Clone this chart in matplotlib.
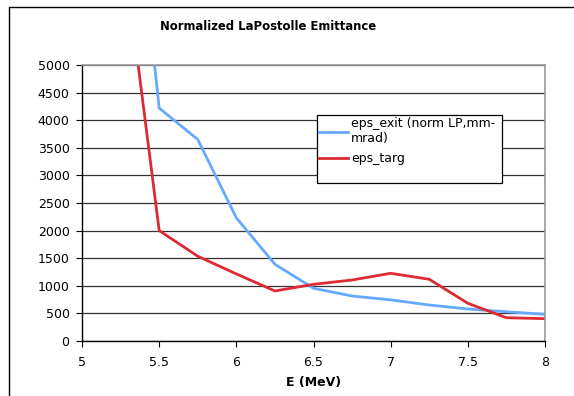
import matplotlib.pyplot as plt
from matplotlib.lines import Line2D
from matplotlib.patches import Rectangle

# beam energy (MeV) and normalized LaPostolle emittance values
energy = [5.25, 5.5, 5.75, 6.0, 6.25, 6.5, 6.75, 7.0, 7.25, 7.5, 7.75, 8.0]
eps_exit = [10700, 4220, 3650, 2230, 1390, 955, 815, 745, 652, 580, 530, 483]
eps_targ = [7500, 2000, 1535, 1215, 906, 1027, 1105, 1226, 1118, 683, 422, 404]

xticks = [5, 5.5, 6, 6.5, 7, 7.5, 8]
xticklabels = ['5', '5.5', '6', '6.5', '7', '7.5', '8']
yticks = list(range(0, 5001, 500))

plt.rcParams['font.family'] = 'DejaVu Sans'

fig = plt.figure(figsize=(5.74, 3.96), dpi=100)
ax = fig.add_axes([0.1429, 0.1389, 0.8066, 0.6970])

ax.plot(energy, eps_exit, color='#66aaff', linewidth=2.0,
        label='eps_exit (norm LP,mm-\nmrad)', solid_joinstyle='miter')
ax.plot(energy, eps_targ, color='#dd2a33', linewidth=2.0,
        label='eps_targ', solid_joinstyle='miter')

ax.set_xlim(5, 8)
ax.set_ylim(0, 5000)
ax.set_xticks(xticks)
ax.set_xticklabels(xticklabels)
ax.set_yticks(yticks)
ax.tick_params(labelsize=9, length=4, width=0.8, color='black')
ax.tick_params(axis='x', pad=7)
ax.tick_params(axis='y', pad=5)

# horizontal grid only
ax.grid(axis='y', color='#333333', linewidth=0.9)
ax.set_axisbelow(True)
for side in ['top', 'right']:
    ax.spines[side].set_color('#999999')
    ax.spines[side].set_linewidth(1.2)
for side in ['left', 'bottom']:
    ax.spines[side].set_color('black')
    ax.spines[side].set_linewidth(1.0)

ax.set_xlabel('E (MeV)', fontsize=9, fontweight='bold', labelpad=5)
fig.text(0.467, 0.932, 'Normalized LaPostolle Emittance', ha='center',
         va='center', fontsize=8.4, fontweight='bold')

# legend box drawn separately so it keeps its fixed size
box = Rectangle((317 / 574, 1 - 183 / 396), 185 / 574, 68 / 396,
                transform=fig.transFigure, facecolor='white',
                edgecolor='black', linewidth=0.9, zorder=4, clip_on=False)
ax.add_patch(box)
leg = ax.legend(loc='upper left', bbox_to_anchor=(319 / 574, 1 - 117 / 396),
                bbox_transform=fig.transFigure, fontsize=9, frameon=False,
                handlelength=2.3, handletextpad=0.25, labelspacing=0.55,
                borderaxespad=0, borderpad=0)
leg.set_zorder(5)

# chart border (left and top edges)
fig.add_artist(Line2D([9 / 574, 9 / 574, 1.0], [0.0, 1 - 7 / 396, 1 - 7 / 396],
                      transform=fig.transFigure, color='black', linewidth=1.0))

fig.savefig('out.png', dpi=100)
